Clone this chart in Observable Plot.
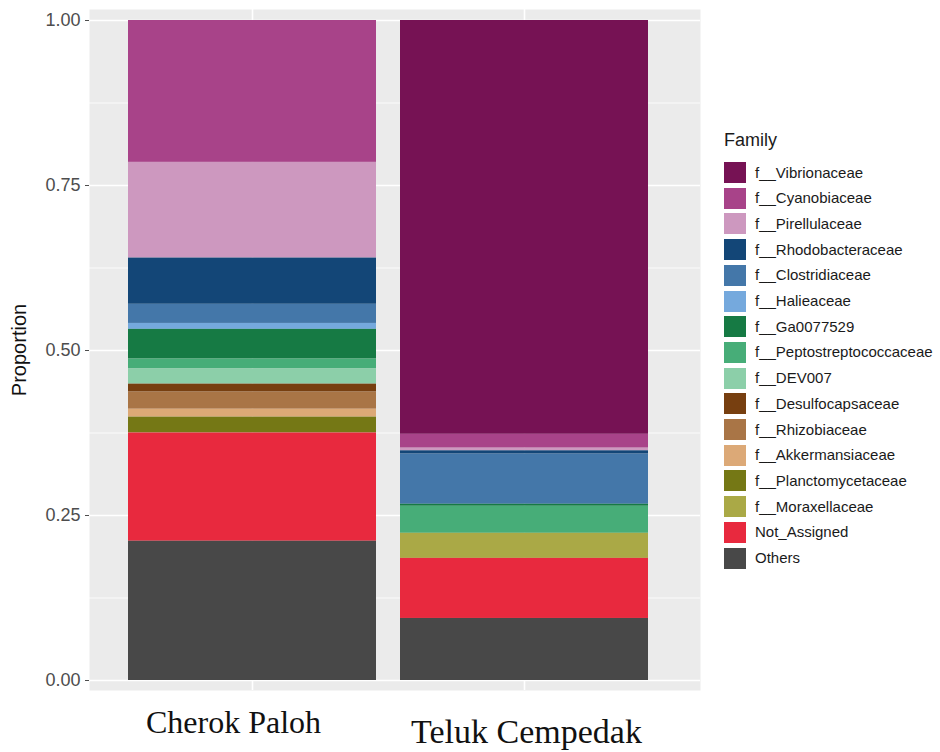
<!DOCTYPE html>
<html>
<head>
<meta charset="utf-8">
<script src="https://cdn.jsdelivr.net/npm/d3@7"></script>
<script src="https://cdn.jsdelivr.net/npm/@observablehq/plot@0.6"></script>
<style>
  html, body { margin: 0; padding: 0; background: #fff; }
  #wrap { position: relative; width: 940px; height: 752px; overflow: hidden; font-family: "Liberation Sans", Arial, sans-serif; }
  #wrap svg { position: absolute; left: 0; top: 0; }
  .leg-title { position: absolute; left: 724px; top: 129px; font-size: 18px; color: #1a1a1a; line-height: 22px; }
  .leg-sw { position: absolute; left: 724px; width: 22px; height: 21px; }
  .leg-lab { position: absolute; left: 755px; font-size: 15px; color: #1a1a1a; line-height: 18px; white-space: nowrap; }
</style>
</head>
<body>
<div id="wrap"></div>
<script>
const sites = ["Cherok Paloh", "Teluk Cempedak"];
const families = [
  "f__Vibrionaceae", "f__Cyanobiaceae", "f__Pirellulaceae", "f__Rhodobacteraceae",
  "f__Clostridiaceae", "f__Halieaceae", "f__Ga0077529", "f__Peptostreptococcaceae",
  "f__DEV007", "f__Desulfocapsaceae", "f__Rhizobiaceae", "f__Akkermansiaceae",
  "f__Planctomycetaceae", "f__Moraxellaceae", "Not_Assigned", "Others"
];
const colors = [
  "#761254", "#a84389", "#cd98bf", "#134677",
  "#4477a9", "#75a9dd", "#167a44", "#47ad78",
  "#8ccfa9", "#773f10", "#a97546", "#dca977",
  "#757815", "#aaa946", "#e8293e", "#484848"
];
const cherokPaloh   = [0, 0.215, 0.145, 0.070, 0.029, 0.009, 0.045, 0.015, 0.023, 0.012, 0.026, 0.012, 0.024, 0, 0.164, 0.211];
const telukCempedak = [0.627, 0.021, 0.004, 0.005, 0.076, 0, 0.003, 0.041, 0, 0, 0, 0, 0, 0.038, 0.091, 0.094];
const yTicks = [0, 0.25, 0.5, 0.75, 1];
const yMinor = [0.125, 0.375, 0.625, 0.875];
const yLabel = "Proportion";
const legendTitle = "Family";

const rows = [];
[cherokPaloh, telukCempedak].forEach((vals, si) => {
  vals.forEach((v, fi) => rows.push({site: sites[si], family: families[fi], value: v}));
});

const chart = Plot.plot({
  width: 940,
  height: 752,
  marginLeft: 89,
  marginRight: 240,
  marginTop: 9,
  marginBottom: 62,
  style: {background: "transparent", fontFamily: "Liberation Sans, Arial, sans-serif", overflow: "visible"},
  x: {domain: sites, range: [127, 648], paddingInner: 0.09, paddingOuter: 0, axis: null},
  y: {domain: [0, 1], range: [680, 20], axis: null},
  color: {domain: families, range: colors},
  marks: [
    Plot.frame({fill: "#ebebeb", stroke: null}),
    Plot.gridY(yMinor, {stroke: "#ffffff", strokeOpacity: 1, strokeWidth: 0.8}),
    Plot.gridY(yTicks, {stroke: "#ffffff", strokeOpacity: 1, strokeWidth: 1.6}),
    Plot.gridX(sites, {stroke: "#ffffff", strokeOpacity: 1, strokeWidth: 1.6}),
    Plot.barY(rows, Plot.stackY({
      x: "site", y: "value", fill: "family",
      order: [...families].reverse()
    })),
    Plot.axisY(yTicks, {
      tickFormat: d3.format(".2f"), tickSize: 4, tickPadding: 5,
      fontSize: 18, color: "#4d4d4d", label: null
    }),
    Plot.text([yLabel], {
      frameAnchor: "left", textAnchor: "middle", dx: -70, rotate: -90, text: d => d,
      fontSize: 20, fill: "#111", fontFamily: "Liberation Sans, Arial, sans-serif"
    }),
    Plot.axisX([sites[0]], {
      tickSize: 0, tickPadding: 20, dx: -19, fontSize: 32, fill: "#111",
      fontFamily: "Liberation Serif, Times New Roman, serif", label: null
    }),
    Plot.axisX([sites[1]], {
      tickSize: 0, tickPadding: 28, dx: 2, fontSize: 34, fill: "#111",
      fontFamily: "Liberation Serif, Times New Roman, serif", label: null
    })
  ]
});

const wrap = document.getElementById("wrap");
wrap.appendChild(chart);

const t = document.createElement("div");
t.className = "leg-title";
t.textContent = legendTitle;
wrap.appendChild(t);
families.forEach((f, i) => {
  const top = 162 + i * 25.7;
  const sw = document.createElement("div");
  sw.className = "leg-sw";
  sw.style.top = top + "px";
  sw.style.background = colors[i];
  wrap.appendChild(sw);
  const lab = document.createElement("div");
  lab.className = "leg-lab";
  lab.style.top = (top + 10.5 - 9) + "px";
  lab.textContent = f;
  wrap.appendChild(lab);
});
</script>
</body>
</html>
